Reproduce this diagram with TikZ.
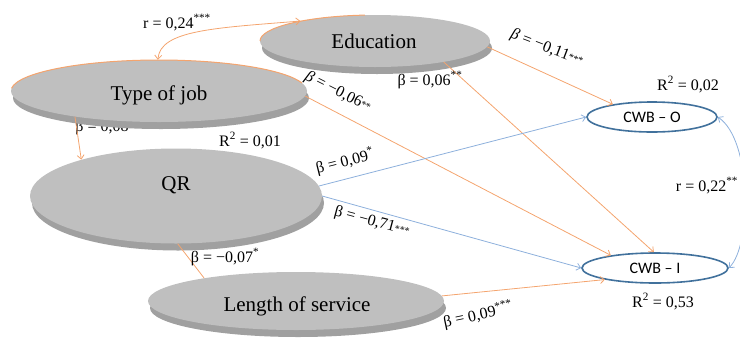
\documentclass[tikz,border=0pt]{standalone}
\usepackage{fontspec}
\setmainfont{Liberation Serif}
\newfontfamily\cwbfont{Carlito}
\usetikzlibrary{shapes.geometric,arrows.meta,shadows,calc}
\definecolor{orl}{RGB}{244,164,110}
\definecolor{bll}{RGB}{141,176,220}
\definecolor{cwbb}{RGB}{65,113,156}
\definecolor{ellg}{RGB}{191,191,191}
\definecolor{shdg}{RGB}{160,160,160}
\newcommand{\sx}[1]{\textsuperscript{#1}}
\newcommand{\lx}[1]{\raisebox{0.05em}{\fontsize{10}{10}\selectfont #1}}
\begin{document}
\begin{tikzpicture}[x=1pt,y=1pt,
  ell/.style={ellipse, fill=ellg, draw=none, inner sep=0pt,
    general shadow={fill=shdg, shadow xshift=2pt, shadow yshift=-7pt}},
  ntext/.style={anchor=base, inner sep=0pt, font=\fontsize{21}{23}\selectfont},
  cwb/.style={ellipse, draw=cwbb, line width=1.6pt, fill=white, inner sep=0pt,
    font=\cwbfont\fontsize{16}{18}\selectfont},
  lab/.style={inner sep=0pt, font=\fontsize{16}{18}\selectfont},
  blab/.style={lab, anchor=base},
  tip/.style={-{Straight Barb[length=4pt,width=7pt]}},
  tips/.style={{Straight Barb[length=4pt,width=7pt]}-{Straight Barb[length=4pt,width=7pt]}},
  oline/.style={draw=orl, line width=0.8pt},
  bline/.style={draw=bll, line width=0.8pt}]
\useasboundingbox (0,0) rectangle (740,-341);
% label partly hidden behind Type of job
\node[blab] (l08) at (102,-131) {β = 0,08};
% ellipses
\node[ell, minimum width=230pt, minimum height=52pt] (edu) at (375,-41) {};
\node[ell, minimum width=296pt, minimum height=62pt] (job) at (159,-91) {};
\node[ell, minimum width=292pt, minimum height=95pt] (qr) at (176,-196) {};
\node[ell, minimum width=296pt, minimum height=58pt] (los) at (296,-301) {};
\draw[orl, line width=1pt] ($(edu.center)+(180:115 and 26)$) arc[start angle=180, end angle=95, x radius=115, y radius=26];
\draw[orl, line width=1pt] ($(job.center)+(175:148 and 31)$) arc[start angle=175, end angle=15, x radius=148, y radius=31];
\node[ntext] (edut) at (374,-48) {Education};
\node[ntext] (jobt) at (159,-100) {Type of job};
\node[ntext] (qrt) at (176,-190) {QR};
\node[ntext] (lost) at (297,-311) {Length of service};
% outcome nodes
\node[cwb, minimum width=130pt, minimum height=30pt] (cwbo) at (652,-117) {CWB – O};
\node[cwb, minimum width=146pt, minimum height=30pt] (cwbi) at (655,-268) {CWB – I};
% connectors
\draw[oline, tip] (job.197) -- (qr.159);
\draw[oline, tips] (job.92) .. controls (160,-30) and (215,-28) .. (edu.165);
\draw[oline, tip] (edu.-3) -- (cwbo.162);
\draw[oline, tip] (edu.-17) -- (cwbi.94);
\draw[oline, tip] (job.-2) -- (cwbi.164);
\draw[bline, tip] (qr.4) -- (cwbo.west);
\draw[bline, tip] (qr.0) -- (cwbi.west);
\draw[oline] (qr.272) -- (los.166);
\draw[oline, tip] (los.2) -- (cwbi.193);
\draw[bline, tips] (cwbo.east) .. controls (752,-140) and (752,-245) .. (cwbi.east);
% labels
\node[blab] (r24) at (177,-28) {r = 0,24\sx{***}};
\node[blab] (r01) at (250,-146) {R\sx{2} = 0,01};
\node[blab] (b06) at (430,-85) {β = 0,06\sx{**}};
\node[blab] (r02) at (688,-90) {R\sx{2} = 0,02};
\node[blab] (r53) at (663,-307) {R\sx{2} = 0,53};
\node[blab] (r22) at (707,-191) {r = 0,22\sx{**}};
\node[blab] (b07) at (225,-262) {β = −0,07\sx{*}};
\node[lab, rotate=-21] (b11) at (547,-48) {\textit{β} = −0,11\lx{***}};
\node[lab, rotate=-27] (b06b) at (338,-92) {\textit{β} = −0,06\lx{**}};
\node[lab, rotate=14] (b09) at (345,-161) {β = 0,09\sx{*}};
\node[lab, rotate=-15] (b71) at (372,-222) {β = −0,71\lx{***}};
\node[lab, rotate=12] (b09b) at (478,-315) {β = 0,09\sx{***}};
\end{tikzpicture}
\end{document}
